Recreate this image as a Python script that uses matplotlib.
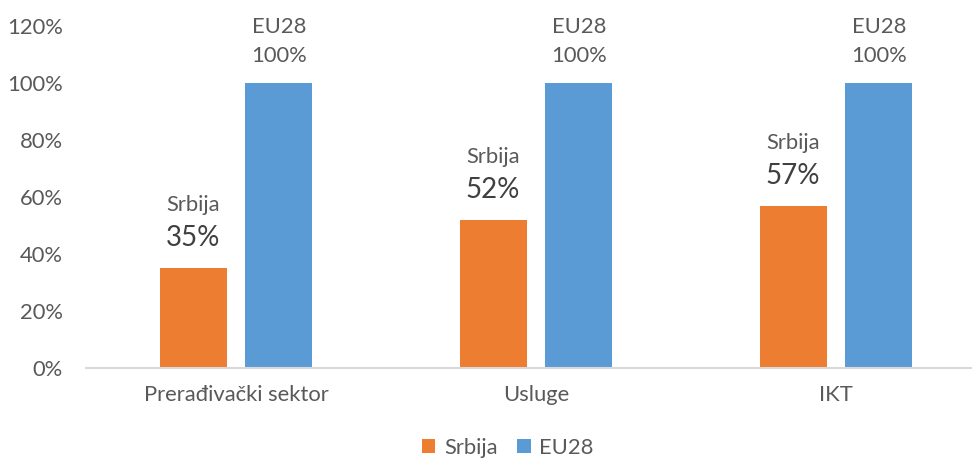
import matplotlib
matplotlib.use('Agg')
import matplotlib.pyplot as plt
import numpy as np
from matplotlib.ticker import FuncFormatter

categories = ['Prerađivački sektor', 'Usluge', 'IKT']
srbija = [0.35, 0.52, 0.57]
eu28 = [1.00, 1.00, 1.00]
series_names = ['Srbija', 'EU28']

ORANGE = '#ED7D31'
BLUE = '#5B9BD5'
TEXT = '#595959'
FS = 15.8

plt.rcParams['font.family'] = ['Lato', 'DejaVu Sans']

fig = plt.figure(figsize=(9.72, 4.61), dpi=100)
ax = fig.add_axes([86 / 972, (461 - 368) / 461, (972 - 86) / 972, (368 - 26) / 461])

x = np.arange(len(categories))
w = 0.223
off = 0.143
ax.bar(x - off, srbija, w, color=ORANGE, label=series_names[0])
ax.bar(x + off, eu28, w, color=BLUE, label=series_names[1])

for xi, v in zip(x, srbija):
    ax.annotate('Srbija', (xi - off, v), xytext=(0, 63), textcoords='offset pixels',
                ha='center', va='center', fontsize=FS, color=TEXT)
    ax.annotate(f'{v:.0%}', (xi - off, v), xytext=(0, 30), textcoords='offset pixels',
                ha='center', va='center', fontsize=20, color='#404040')
for xi, v in zip(x, eu28):
    ax.annotate('EU28', (xi + off, v), xytext=(0, 56), textcoords='offset pixels',
                ha='center', va='center', fontsize=FS, color=TEXT)
    ax.annotate(f'{v:.0%}', (xi + off, v), xytext=(0, 27), textcoords='offset pixels',
                ha='center', va='center', fontsize=FS, color=TEXT)

ax.set_xlim(-0.5, (972 - 236) / 300)
ax.set_ylim(0, 1.2)
ax.set_yticks(np.arange(0, 1.21, 0.2))
ax.yaxis.set_major_formatter(FuncFormatter(lambda v, _p: f'{v:.0%}'))
ax.set_xticks(x)
ax.set_xticklabels(categories)
ax.tick_params(axis='both', length=0, labelsize=FS, colors=TEXT)
ax.tick_params(axis='x', pad=12)
ax.tick_params(axis='y', pad=16.5)

for s in ['top', 'right', 'left']:
    ax.spines[s].set_visible(False)
ax.spines['bottom'].set_color('#D9D9D9')
ax.spines['bottom'].set_linewidth(1.5)

fig.legend(loc='center', bbox_to_anchor=(508 / 972, 1 - 448 / 461), ncol=2, frameon=False,
           fontsize=FS, labelcolor=TEXT, handlelength=0.6, handleheight=0.6,
           handletextpad=0.4, columnspacing=0.9, borderpad=0.2)

fig.savefig('out.png', dpi=100)
